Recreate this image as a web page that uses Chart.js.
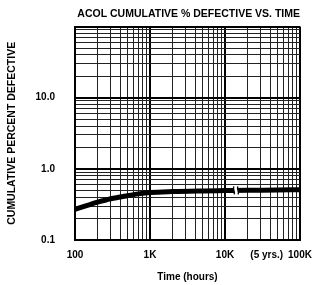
<!DOCTYPE html>
<html>
<head>
<meta charset="utf-8">
<script src="https://cdn.jsdelivr.net/npm/chart.js@4/dist/chart.umd.min.js"></script>
<style>
  html, body { margin: 0; padding: 0; background: #fff; }
  #wrap { width: 315px; height: 285px; }
</style>
</head>
<body>
<div id="wrap"><canvas id="c" width="315" height="285"></canvas></div>
<script>
// ---- data ----
const hours   = [100, 150, 200, 300, 500, 700, 1000, 2000, 5000, 10000, 20000, 50000, 100000];
const percent = [0.27, 0.31, 0.34, 0.38, 0.42, 0.445, 0.465, 0.48, 0.49, 0.495, 0.50, 0.505, 0.51];

const xDecades     = [100, 1000, 10000, 100000];
const xDecadeLabels = ['100', '1K', '10K', '100K'];
const xNoteValue   = 36000;          // "(5 yrs.)" note position on the time axis
const xNoteLabel   = '(5 yrs.)';

const yDecades      = [0.1, 1, 10, 100];
const yDecadeLabels = ['0.1', '1.0', '10.0', ''];

const breakAtHours = 14000;          // axis-break mark on the curve

const titleText  = 'ACOL CUMULATIVE % DEFECTIVE VS. TIME';
const xTitleText = 'Time (hours)';
const yTitleText = 'CUMULATIVE PERCENT DEFECTIVE';

// ---- helpers ----
function logTicks(decades) {
  const t = [];
  for (let i = 0; i < decades.length; i++) {
    t.push({ value: decades[i], major: true });
    if (i < decades.length - 1) {
      for (let m = 2; m <= 9; m++) t.push({ value: decades[i] * m, major: false });
    }
  }
  return t;
}
const FONT = "'Liberation Sans', Arial, sans-serif";

const breakPlugin = {
  id: 'breakMark',
  afterDatasetsDraw(chart) {
    const xs = chart.scales.x, ys = chart.scales.y;
    // find y on the curve near break by interpolation in data
    let yv = percent[percent.length - 1];
    for (let i = 0; i < hours.length - 1; i++) {
      if (breakAtHours >= hours[i] && breakAtHours <= hours[i + 1]) {
        const f = (Math.log(breakAtHours) - Math.log(hours[i])) / (Math.log(hours[i + 1]) - Math.log(hours[i]));
        yv = percent[i] + f * (percent[i + 1] - percent[i]);
      }
    }
    const px = xs.getPixelForValue(breakAtHours);
    const py = ys.getPixelForValue(yv);
    const c = chart.ctx;
    c.save();
    c.fillStyle = '#fff';
    c.fillRect(px - 2, py - 4, 4, 8);
    c.strokeStyle = '#000';
    c.lineWidth = 1.3;
    c.beginPath();
    c.moveTo(px - 2, py - 4);
    c.bezierCurveTo(px - 4, py - 1, px, py + 1, px - 2, py + 4);
    c.moveTo(px + 2, py - 4);
    c.bezierCurveTo(px, py - 1, px + 4, py + 1, px + 2, py + 4);
    c.stroke();
    c.restore();
  }
};

new Chart(document.getElementById('c'), {
  type: 'line',
  data: {
    datasets: [{
      data: hours.map((h, i) => ({ x: h, y: percent[i] })),
      borderColor: '#000',
      borderWidth: 5,
      pointRadius: 0,
      cubicInterpolationMode: 'monotone',
      fill: false
    }]
  },
  options: {
    responsive: false,
    animation: false,
    devicePixelRatio: 1,
    layout: { padding: { left: 0, right: 15, top: 0, bottom: 0 } },
    plugins: {
      legend: { display: false },
      tooltip: { enabled: false },
      title: {
        display: true,
        text: titleText,
        align: 'end',
        color: '#000',
        font: { family: FONT, size: 10.5, weight: 'bold' },
        padding: { top: 8, bottom: 6 }
      }
    },
    scales: {
      x: {
        type: 'logarithmic',
        min: 100, max: 100000,
        afterBuildTicks(s) {
          const t = logTicks(xDecades);
          t.push({ value: xNoteValue, major: false, note: true });
          t.sort((a, b) => a.value - b.value);
          s.ticks = t;
        },
        afterFit(s) { s.paddingLeft = 0; s.paddingRight = 0; s.height = 45; },
        ticks: {
          autoSkip: false, maxRotation: 0, minRotation: 0,
          padding: 9,
          color: '#000',
          font: { family: FONT, size: 10, weight: 'bold' },
          callback(v) {
            if (v === xNoteValue) return xNoteLabel;
            const i = xDecades.indexOf(v);
            return i >= 0 ? xDecadeLabels[i] : '';
          }
        },
        grid: {
          drawTicks: false,
          color: ctx => (ctx.tick && ctx.tick.note) ? 'rgba(0,0,0,0)' : (ctx.tick && ctx.tick.major ? '#000' : '#222'),
          lineWidth: ctx => (ctx.tick && ctx.tick.note) ? 0 : (ctx.tick && ctx.tick.major ? 2 : 1)
        },
        border: { display: true, color: '#000', width: 2 },
        title: {
          display: true,
          text: xTitleText,
          color: '#000',
          font: { family: FONT, size: 10, weight: 'bold' },
          padding: { top: 0, bottom: 2 }
        }
      },
      y: {
        type: 'logarithmic',
        min: 0.1, max: 100,
        afterBuildTicks(s) { s.ticks = logTicks(yDecades); },
        afterFit(s) { s.width = 75; },
        ticks: {
          autoSkip: false,
          padding: 20,
          color: '#000',
          font: { family: FONT, size: 10, weight: 'bold' },
          callback(v) {
            for (let i = 0; i < yDecades.length; i++) {
              if (Math.abs(v - yDecades[i]) < 1e-9) return yDecadeLabels[i];
            }
            return '';
          }
        },
        grid: {
          drawTicks: false,
          color: ctx => (ctx.tick && ctx.tick.major ? '#000' : '#222'),
          lineWidth: ctx => (ctx.tick && ctx.tick.major ? 2 : 1)
        },
        border: { display: true, color: '#000', width: 2 },
        title: {
          display: true,
          text: yTitleText,
          color: '#000',
          font: { family: FONT, size: 10.5, weight: 'bold' },
          padding: { top: 6, bottom: 0 }
        }
      }
    }
  },
  plugins: [breakPlugin]
});
</script>
</body>
</html>
